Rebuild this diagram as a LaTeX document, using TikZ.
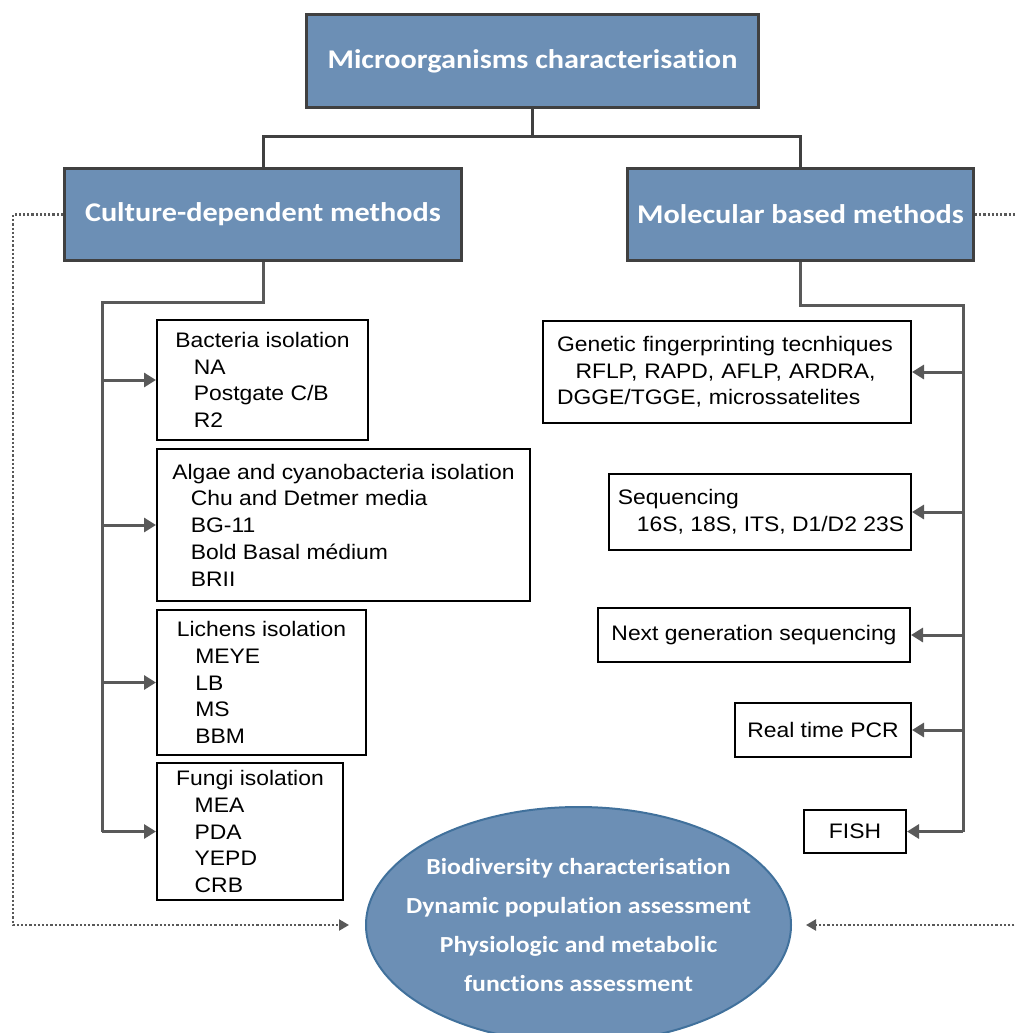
\documentclass[tikz,border=0pt]{standalone}
\usepackage{fontspec}
\setmainfont{Liberation Sans}[FakeStretch=1.09]
\newfontfamily\headfont{Carlito}[FakeStretch=1.12, Ligatures={NoCommon,NoContextual}]
\usetikzlibrary{arrows.meta,shapes.geometric}
\definecolor{boxblue}{RGB}{108,143,181}
\definecolor{rimblue}{RGB}{65,113,156}
\definecolor{rimgray}{RGB}{64,64,64}
\definecolor{linegray}{RGB}{89,89,89}
\newcommand{\sublist}{\hspace*{18.5pt}}

\begin{document}
\begin{tikzpicture}[x=1pt, y=-1pt,
    headbox/.style={draw=rimgray, line width=3pt, fill=boxblue, text=white,
        font=\headfont\bfseries\fontsize{27}{32}\selectfont},
    listbox/.style={draw=black, line width=2pt, align=left, anchor=north west,
        font=\fontsize{21}{26.7}\selectfont},
    techbox/.style={listbox, anchor=north east},
    tree/.style={draw=rimgray, line width=3pt},
    conn/.style={draw=linegray, line width=3pt},
    tip/.style={-{Triangle[length=12pt,width=14pt]}},
    dots/.style={draw=linegray, line width=2.2pt, dotted, -{Triangle[length=10pt,width=11pt]}}]
    \useasboundingbox (0,0) rectangle (1016,1033);
    \clip (0,0) rectangle (1016,1033);

    % main levels
    \node[headbox, minimum width=452, minimum height=92] (micro) at (532.5,61) {Microorganisms characterisation};
    \node[headbox, minimum width=397, minimum height=92] (cult) at (263,214.5) {Culture-dependent methods};
    \node[headbox, minimum width=346, minimum height=92] (mol) at (800.5,214.5) {Molecular based methods};
    \draw[tree] (micro.south) -- ++(0,28) -| (cult.north);
    \draw[tree] (micro.south) ++(0,28) -| (mol.north);

    % culture-dependent side
    \coordinate (lspine) at (102,302);
    \node[listbox, minimum width=211, minimum height=120] (bact) at (156,319)
        {Bacteria isolation\\ \sublist NA\\ \sublist Postgate C/B\\ \sublist R2};
    \node[listbox, minimum width=373, minimum height=152] (algae) at (156,448)
        {Algae and cyanobacteria isolation\\ \sublist Chu and Detmer media\\ \sublist BG-11\\ \sublist Bold Basal médium\\ \sublist BRII};
    \node[listbox, minimum width=209, minimum height=145] (lich) at (156,609)
        {Lichens isolation\\ \sublist MEYE\\ \sublist LB\\ \sublist MS\\ \sublist BBM};
    \node[listbox, minimum width=186, minimum height=137] (fungi) at (156,762)
        {Fungi isolation\\ \sublist MEA\\ \sublist PDA\\ \sublist YEPD\\ \sublist CRB};
    \draw[conn] (cult.south) |- (lspine) -- (lspine |- fungi.west);
    \foreach \b in {bact,algae,lich,fungi}
        \draw[conn, tip] (lspine |- \b.west) -- (\b.west);

    % molecular side
    \coordinate (rspine) at (963,305);
    \node[techbox, text width=340, inner xsep=14, minimum height=102] (gen) at (912,320)
        {Genetic fingerprinting tecnhiques\\ \sublist RFLP, RAPD, AFLP, ARDRA,\\ DGGE/TGGE, microssatelites};
    \node[techbox, minimum width=302, minimum height=76] (seq) at (912,473)
        {\hspace*{2pt}Sequencing\\ \hspace*{21pt}16S, 18S, ITS, D1/D2 23S};
    \node[techbox, minimum width=312, minimum height=54] (ngs) at (911,607) {Next generation sequencing};
    \node[techbox, minimum width=176, minimum height=54] (pcr) at (912,702) {Real time PCR};
    \node[techbox, minimum width=102, minimum height=43] (fish) at (907,809) {FISH};
    \draw[conn] (mol.south) |- (rspine) -- (rspine |- fish.east);
    \foreach \b in {gen,seq,ngs,pcr,fish}
        \draw[conn, tip] (rspine |- \b.east) -- (\b.east);

    % outcome
    \node[ellipse, draw=rimblue, line width=2pt, fill=boxblue, text=white, align=center,
        inner xsep=-60pt, inner ysep=-40pt, minimum width=425, minimum height=236,
        font=\headfont\bfseries\fontsize{23}{38.7}\selectfont] (goal) at (578.5,925)
        {Biodiversity characterisation\\ Dynamic population assessment\\ Physiologic and metabolic\\ functions assessment};
    \coordinate (ldot) at (13,0);
    \coordinate (rdot) at (1030,0);
    \draw[dots, shorten >=16pt] (cult.west) -| (ldot |- goal.west) -- (goal.west);
    \draw[dots, shorten >=14pt] (mol.east) -| (rdot |- goal.east) -- (goal.east);
\end{tikzpicture}
\end{document}
